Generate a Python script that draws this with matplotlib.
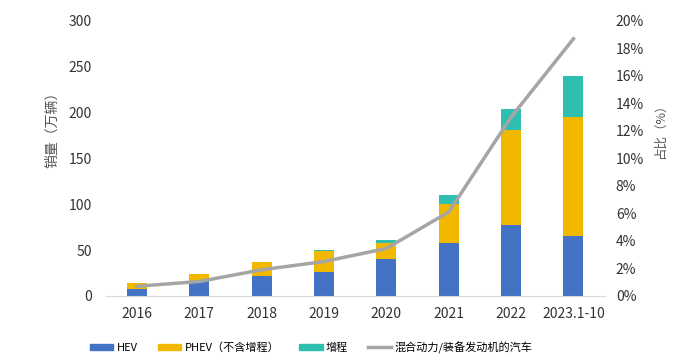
import numpy as np
import matplotlib
matplotlib.use("Agg")
import matplotlib.pyplot as plt
from matplotlib.patches import Patch
from matplotlib.lines import Line2D
from matplotlib.ticker import PercentFormatter

plt.rcParams['font.family'] = ['Noto Sans CJK SC', 'DejaVu Sans']

years = ['2016', '2017', '2018', '2019', '2020', '2021', '2022', '2023.1-10']
hev = [8, 16, 22, 26.5, 40, 58, 77.5, 65.5]
phev = [6.5, 8, 15, 22.5, 18, 42.7, 104, 129.5]
erev = [0, 0, 0, 1.5, 3, 9.8, 22.8, 45]
share = [0.7, 1.05, 1.9, 2.5, 3.45, 6.1, 13.0, 18.7]

c_hev = '#4472C4'
c_phev = '#F2B800'
c_erev = '#2EBFB0'
c_line = '#A5A5A5'

fig = plt.figure(figsize=(6.95, 3.6), dpi=100)
ax = fig.add_axes([0.152, 0.178, 0.718, 0.764])
x = np.arange(len(years))
w = 0.32

ax.bar(x, hev, w, color=c_hev, zorder=2)
ax.bar(x, phev, w, bottom=hev, color=c_phev, zorder=2)
bottom2 = np.array(hev) + np.array(phev)
ax.bar(x, erev, w, bottom=bottom2, color=c_erev, zorder=2)

ax.set_xlim(-0.5, len(years) - 0.5)
ax.set_ylim(0, 300)
ax.set_yticks(np.arange(0, 301, 50))
ax.set_xticks(x)
ax.set_xticklabels(years)
for s in ['top', 'right', 'left']:
    ax.spines[s].set_visible(False)
ax.spines['bottom'].set_color('#D9D9D9')
ax.tick_params(axis='both', length=0, labelsize=10, colors='#333333')
ax.tick_params(axis='x', pad=8)
ax.tick_params(axis='y', pad=10)
ax.set_ylabel('销量（万辆）', fontsize=10, color='#555555')
ax.yaxis.set_label_coords(-0.093, 0.618)

ax2 = ax.twinx()
ax2.plot(x, share, color=c_line, lw=2.5, zorder=3)
ax2.set_ylim(0, 20)
ax2.set_yticks(np.arange(0, 21, 2))
ax2.yaxis.set_major_formatter(PercentFormatter(decimals=0))
for s in ['top', 'right', 'left', 'bottom']:
    ax2.spines[s].set_visible(False)
ax2.tick_params(axis='y', length=0, labelsize=10, colors='#333333', pad=8)
ax2.set_ylabel('占比（%）', fontsize=9, color='#555555', rotation=90)
ax2.yaxis.set_label_coords(1.099, 0.61)

handles = [
    Patch(color=c_hev, label='HEV'),
    Patch(color=c_phev, label='PHEV（不含增程）'),
    Patch(color=c_erev, label='增程'),
    Line2D([0], [0], color=c_line, lw=2.5, label='混合动力/装备发动机的汽车'),
]
fig.legend(handles=handles, loc='center', bbox_to_anchor=(0.448, 0.035), ncol=4,
           frameon=False, fontsize=8, handlelength=2.1, handleheight=0.5,
           columnspacing=1.8, handletextpad=0.3)

fig.savefig('out.png', dpi=100)
